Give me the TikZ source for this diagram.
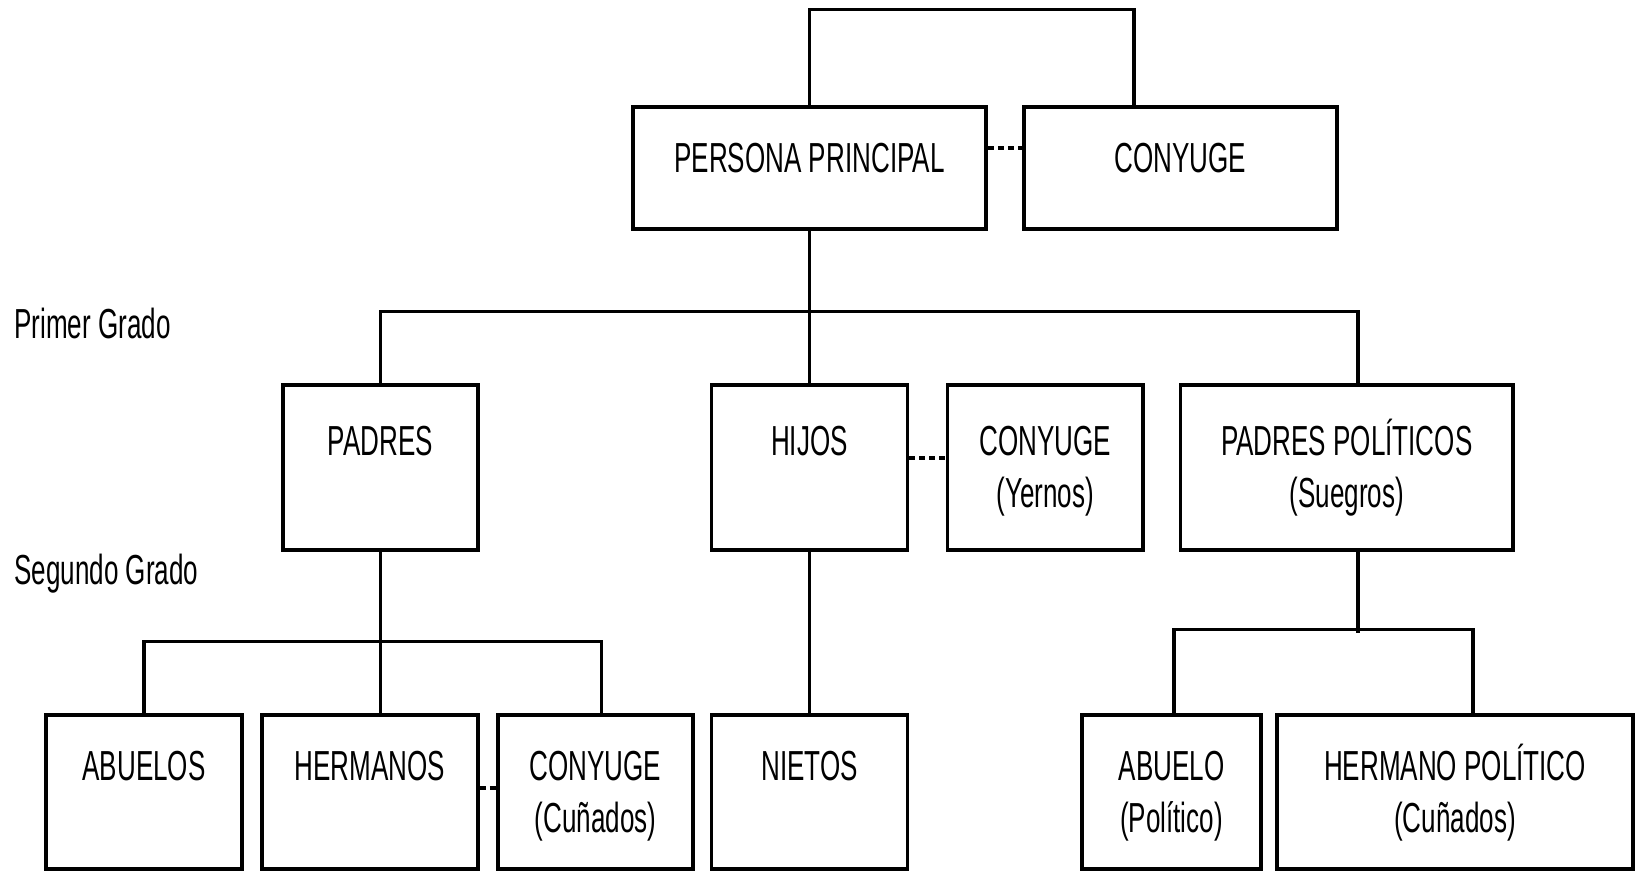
\documentclass[tikz,border=0pt]{standalone}
\usepackage{fontspec}
\setmainfont{Liberation Sans}[FakeStretch=0.62]
\usetikzlibrary{calc}
\begin{document}
\begin{tikzpicture}[x=0.5pt,y=-0.5pt,
  box/.style={draw=black, line width=1.8pt, inner sep=0pt},
  conn/.style={line width=1.6pt},
  dashconn/.style={line width=1.6pt, dash pattern=on 3pt off 2pt},
  txt/.style={inner sep=0pt, anchor=base, font=\fontsize{21pt}{25pt}\selectfont},
  side/.style={inner sep=0pt, anchor=base west, font=\fontsize{21pt}{25pt}\selectfont}
]
\useasboundingbox (0,0) rectangle (1639,883);

% boxes
\node[box, minimum width=176.5pt, minimum height=61pt] (pp) at (809.5,168) {};
\node[box, minimum width=156.5pt, minimum height=61pt] (cy0) at (1180.5,168) {};
\node[box, minimum width=97.5pt, minimum height=82.5pt] (padres) at (380.5,467.5) {};
\node[box, minimum width=98pt, minimum height=82.5pt] (hijos) at (809.5,467.5) {};
\node[box, minimum width=97.75pt, minimum height=82.5pt] (cy1) at (1045.25,467.5) {};
\node[box, minimum width=166.25pt, minimum height=82.5pt] (ppol) at (1346.75,467.5) {};
\node[box, minimum width=98pt, minimum height=77pt] (abuelos) at (144,792) {};
\node[box, minimum width=108pt, minimum height=77pt] (hermanos) at (370,792) {};
\node[box, minimum width=97.5pt, minimum height=77pt] (cy2) at (595.5,792) {};
\node[box, minimum width=98pt, minimum height=77pt] (nietos) at (809.5,792) {};
\node[box, minimum width=89.5pt, minimum height=77pt] (abuelo) at (1171.5,792) {};
\node[box, minimum width=178pt, minimum height=77pt] (hermpol) at (1455,792) {};

% texts
\node[txt] (tpp) at ($(pp.north)+(0,67)$) {PERSONA PRINCIPAL};
\node[txt] (tcy0) at ($(cy0.north)+(0,67)$) {CONYUGE};
\node[txt] (tpadres) at ($(padres.north)+(0,72)$) {PADRES};
\node[txt] (thijos) at ($(hijos.north)+(0,72)$) {HIJOS};
\node[txt] (tcy1a) at ($(cy1.north)+(0,72)$) {CONYUGE};
\node[txt] (tcy1b) at ($(cy1.north)+(0,124)$) {(Yernos)};
\node[txt] (tppola) at ($(ppol.north)+(0,72)$) {PADRES POLÍTICOS};
\node[txt] (tppolb) at ($(ppol.north)+(0,124)$) {(Suegros)};
\node[txt] (tabuelos) at ($(abuelos.north)+(0,67)$) {ABUELOS};
\node[txt] (thermanos) at ($(hermanos.north)+(0,67)$) {HERMANOS};
\node[txt] (tcy2a) at ($(cy2.north)+(0,67)$) {CONYUGE};
\node[txt] (tcy2b) at ($(cy2.north)+(0,119)$) {(Cuñados)};
\node[txt] (tnietos) at ($(nietos.north)+(0,67)$) {NIETOS};
\node[txt] (tabueloa) at ($(abuelo.north)+(0,67)$) {ABUELO};
\node[txt] (tabuelob) at ($(abuelo.north)+(0,119)$) {(Político)};
\node[txt] (thermpola) at ($(hermpol.north)+(0,67)$) {HERMANO POLÍTICO};
\node[txt] (thermpolb) at ($(hermpol.north)+(0,119)$) {(Cuñados)};

\node[side] (primer) at (14,338) {Primer Grado};
\node[side] (segundo) at (14,584) {Segundo Grado};

% connectors
\draw[conn] (pp.north) -- ++(0,-96) -| ($(cy0.north)+(-46.5,0)$);
\draw[conn] (pp.south) -- (hijos.north);
\draw[conn] (padres.north) -- ++(0,-72) -| ($(ppol.north)+(11.25,0)$);
\draw[conn] (padres.south) -- (padres.south |- hermanos.north);
\draw[conn] (abuelos.north) -- ++(0,-72) -| ($(cy2.north)+(6,0)$);
\draw[conn] (hijos.south) -- (nietos.north);
\draw[conn] ($(ppol.south)+(11.25,0)$) -- ++(0,81);
\draw[conn] ($(abuelo.north)+(2.5,0)$) -- ++(0,-84) -| ($(hermpol.north)+(18,0)$);

% dashed links
\draw[dashconn] ($(pp.east)+(0,-20)$) -- ($(cy0.west)+(0,-20)$);
\draw[dashconn] ($(hijos.east)+(0,-9.5)$) -- ($(cy1.west)+(0,-9.5)$);
\draw[dashconn] ($(hermanos.east)+(0,-4)$) -- ($(cy2.west)+(0,-4)$);
\end{tikzpicture}
\end{document}
